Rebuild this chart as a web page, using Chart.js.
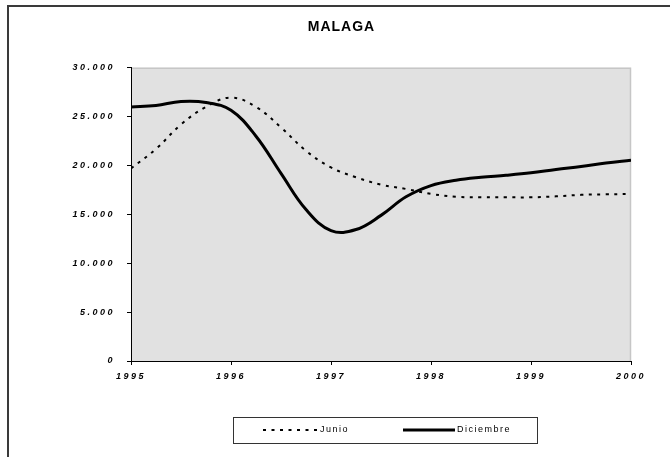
<!DOCTYPE html>
<html lang="es">
<head>
  <meta charset="UTF-8">
  <title>MALAGA</title>
  <script src="https://cdn.jsdelivr.net/npm/chart.js"></script>
  <style>
    html, body { margin: 0; padding: 0; background: #fff; }
  </style>
</head>
<body>
  <canvas id="malagaChart" width="670" height="457"></canvas>

  <script>
    // quarterly points
    const quarters = [1995, 1995.25, 1995.5, 1995.75, 1996, 1996.25, 1996.5, 1996.75, 1997, 1997.25, 1997.5,
                      1997.75, 1998, 1998.25, 1998.5, 1998.75, 1999, 1999.25, 1999.5, 1999.75, 2000];
    const junio = [19700, 21700, 24200, 26000, 26950, 26000, 23900, 21500, 19800, 18800, 18050,
                   17600, 17100, 16800, 16750, 16750, 16750, 16850, 17000, 17050, 17100];
    const diciembre = [26000, 26150, 26550, 26450, 25650, 23000, 19200, 15500, 13350, 13450, 14900,
                       16800, 17950, 18500, 18800, 19000, 19250, 19600, 19900, 20250, 20550];

    const xTicks = [1995, 1996, 1997, 1998, 1999, 2000];
    const xTickLabels = ['1995', '1996', '1997', '1998', '1999', '2000'];
    const yTicks = [0, 5000, 10000, 15000, 20000, 25000, 30000];
    const yTickLabels = ['0', '5.000', '10.000', '15.000', '20.000', '25.000', '30.000'];

    const toPoints = vals => quarters.map((q, i) => ({ x: q, y: vals[i] }));

    // frame, grey plot area, letter spacing and the boxed legend
    const decor = {
      id: 'decor',
      beforeLayout(chart) {
        chart.ctx.letterSpacing = '2.5px';
      },
      beforeDraw(chart) {
        const { ctx, chartArea: a } = chart;
        ctx.save();
        ctx.strokeStyle = '#3a3a3a';
        ctx.lineWidth = 2;
        ctx.beginPath();
        ctx.moveTo(8, chart.height);
        ctx.lineTo(8, 6);
        ctx.lineTo(chart.width, 6);
        ctx.stroke();

        ctx.fillStyle = '#e1e1e1';
        ctx.fillRect(a.left, a.top, a.right - a.left, a.bottom - a.top);
        ctx.strokeStyle = '#c6c6c6';
        ctx.lineWidth = 1.5;
        ctx.beginPath();
        ctx.moveTo(a.left, a.top + 0.5);
        ctx.lineTo(a.right - 0.5, a.top + 0.5);
        ctx.lineTo(a.right - 0.5, a.bottom);
        ctx.stroke();
        ctx.restore();
        ctx.letterSpacing = '1px';   // title
      },
      afterDatasetsDraw(chart) {
        chart.ctx.letterSpacing = '2.5px';  // tick labels (drawn on z 1)
      },
      afterDraw(chart) {
        const { ctx, chartArea: a } = chart;
        const ds = chart.data.datasets;
        const top = a.bottom + 56, h = 26, mid = top + h / 2;
        ctx.save();
        ctx.letterSpacing = '1.5px';
        ctx.strokeStyle = '#333';
        ctx.lineWidth = 1;
        ctx.strokeRect(a.left + 102.5, top + 0.5, 304, h);

        const items = [
          { ds: ds[0], x0: a.left + 132, x1: a.left + 187 },
          { ds: ds[1], x0: a.left + 272, x1: a.left + 324 }
        ];
        ctx.font = '9px "Liberation Sans", Arial, sans-serif';
        ctx.textBaseline = 'middle';
        ctx.fillStyle = '#000';
        items.forEach(it => {
          ctx.strokeStyle = it.ds.borderColor;
          ctx.lineWidth = it.ds.borderWidth;
          ctx.setLineDash(it.ds.borderDash || []);
          ctx.beginPath();
          ctx.moveTo(it.x0, mid);
          ctx.lineTo(it.x1, mid);
          ctx.stroke();
          ctx.fillText(it.ds.label, it.x1 + 2, mid);
        });
        ctx.restore();
      }
    };

    new Chart(document.getElementById('malagaChart'), {
      type: 'line',
      data: {
        datasets: [
          {
            label: 'Junio',
            data: toPoints(junio),
            borderColor: '#000',
            borderWidth: 2,
            borderDash: [3, 5.5],
            pointRadius: 0,
            tension: 0.4,
            fill: false
          },
          {
            label: 'Diciembre',
            data: toPoints(diciembre),
            borderColor: '#000',
            borderWidth: 3,
            pointRadius: 0,
            tension: 0.4,
            fill: false
          }
        ]
      },
      options: {
        responsive: false,
        animation: false,
        layout: { padding: { left: 52, right: 39, top: 0, bottom: 66 } },
        plugins: {
          legend: { display: false },
          tooltip: { enabled: false },
          title: {
            display: true,
            text: 'MALAGA',
            color: '#000',
            font: { family: '"Liberation Sans", Arial, sans-serif', size: 14, weight: 'bold' },
            padding: { top: 19, bottom: 32 }
          }
        },
        scales: {
          x: {
            type: 'linear',
            min: 1995,
            max: 2000,
            afterBuildTicks: s => { s.ticks = xTicks.map(v => ({ value: v })); },
            afterFit: s => { s.height = 30; },
            grid: { drawOnChartArea: false, drawTicks: true, tickLength: 4, color: '#000' },
            border: { display: true, color: '#000', width: 1 },
            ticks: {
              z: 1,
              padding: 6,
              maxRotation: 0,
              color: '#000',
              font: { family: '"Liberation Sans", Arial, sans-serif', size: 9, weight: 'bold', style: 'italic' },
              callback: (v, i) => xTickLabels[i]
            }
          },
          y: {
            min: 0,
            max: 30000,
            afterBuildTicks: s => { s.ticks = yTicks.map(v => ({ value: v })); },
            afterFit: s => { s.width = 79; },
            grid: { drawOnChartArea: false, drawTicks: true, tickLength: 4, color: '#000' },
            border: { display: true, color: '#000', width: 1 },
            ticks: {
              z: 1,
              padding: 12,
              color: '#000',
              font: { family: '"Liberation Sans", Arial, sans-serif', size: 9, weight: 'bold', style: 'italic' },
              callback: (v, i) => yTickLabels[i]
            }
          }
        }
      },
      plugins: [decor]
    });
  </script>
</body>
</html>
